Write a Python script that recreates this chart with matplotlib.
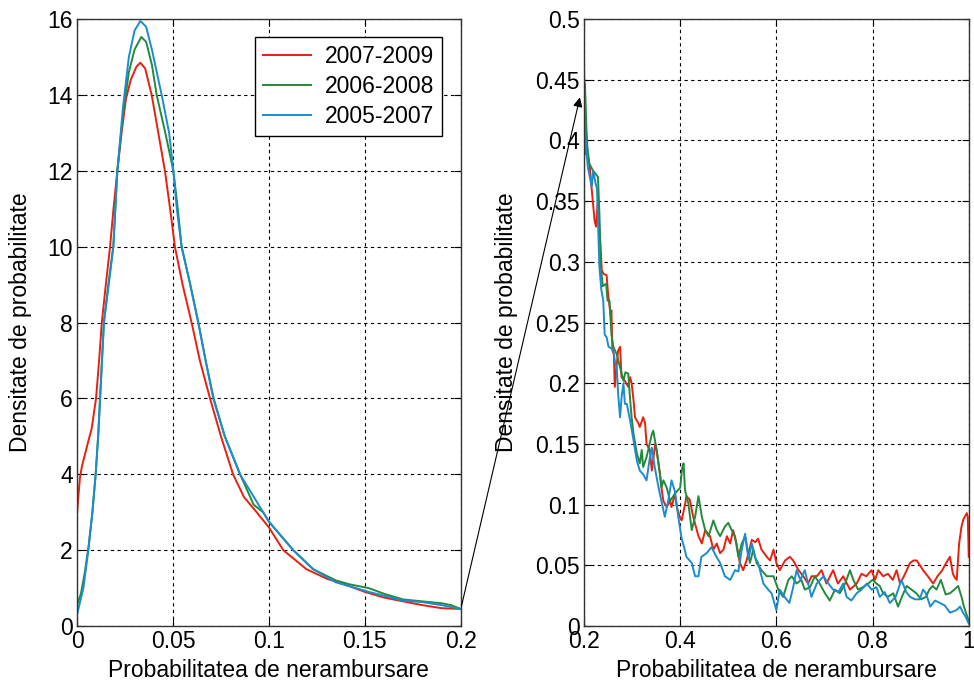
import numpy as np
import matplotlib
matplotlib.use('Agg')
import matplotlib.pyplot as plt
from matplotlib.patches import ConnectionPatch
from matplotlib.ticker import FuncFormatter

plt.rcParams['font.family'] = ['Liberation Sans', 'DejaVu Sans']

# series labels and colours
labels = ['2007-2009', '2006-2008', '2005-2007']
colors = ['#e8200f', '#238a3c', '#1a8ccf']

# ---- left panel: x in [0, 0.2] ----
x_red_l = [0.000, 0.0005, 0.0015, 0.0025, 0.004, 0.006, 0.0076, 0.0099, 0.0115, 0.0129,
           0.0150, 0.0172, 0.0190, 0.0210, 0.0232, 0.0255, 0.0280, 0.0310, 0.0330, 0.0355,
           0.0389, 0.0420, 0.0458, 0.0485, 0.0510, 0.0550, 0.0597, 0.0640, 0.0693, 0.0750,
           0.0813, 0.0870, 0.0936, 0.1000, 0.1075, 0.1195, 0.1300, 0.1420, 0.1500, 0.1600,
           0.1700, 0.1800, 0.1900, 0.2000]
y_red_l = [2.95, 3.3, 3.9, 4.2, 4.5, 4.9, 5.2, 6.0, 7.0, 8.0,
           9.0, 10.0, 11.0, 12.0, 13.0, 13.9, 14.4, 14.75, 14.85, 14.7,
           14.0, 13.1, 12.0, 11.0, 10.0, 9.0, 8.0, 7.0, 6.0, 5.0,
           4.0, 3.4, 3.0, 2.6, 2.0, 1.5, 1.25, 1.05, 0.9, 0.75,
           0.65, 0.55, 0.47, 0.45]

x_green_l = [0.000, 0.002, 0.004, 0.006, 0.008, 0.0097, 0.011, 0.012, 0.013, 0.0140,
             0.0163, 0.0189, 0.0210, 0.0240, 0.0270, 0.0300, 0.0335, 0.0360, 0.0390, 0.0415,
             0.0460, 0.0502, 0.0525, 0.0545, 0.0590, 0.0632, 0.0670, 0.0712, 0.0770, 0.0850,
             0.0920, 0.0970, 0.1000, 0.1127, 0.1230, 0.1350, 0.1420, 0.1520, 0.1600, 0.1700,
             0.1800, 0.1900, 0.1950, 0.2000]
y_green_l = [0.55, 0.85, 1.4, 2.1, 3.0, 4.0, 5.0, 6.0, 7.0, 8.0,
             9.0, 10.0, 12.0, 13.5, 14.6, 15.2, 15.53, 15.4, 14.8, 14.0,
             13.0, 12.0, 11.0, 10.0, 9.0, 8.0, 7.0, 6.0, 5.0, 4.0,
             3.2, 3.0, 2.75, 2.0, 1.5, 1.2, 1.1, 1.0, 0.85, 0.7,
             0.65, 0.6, 0.55, 0.45]

x_blue_l = [0.000, 0.0033, 0.0059, 0.0080, 0.0097, 0.011, 0.0120, 0.0130, 0.0140, 0.0165,
            0.0189, 0.0210, 0.0240, 0.0270, 0.0300, 0.0330, 0.0360, 0.0390, 0.0441, 0.0480,
            0.0502, 0.0520, 0.0545, 0.0590, 0.0632, 0.0670, 0.0710, 0.0770, 0.0849, 0.0970,
            0.1000, 0.1127, 0.1230, 0.1350, 0.1420, 0.1520, 0.1600, 0.1700, 0.1800, 0.1900,
            0.2000]
y_blue_l = [0.30, 1.0, 2.0, 3.0, 4.0, 5.0, 6.0, 7.0, 8.0, 9.0,
            10.0, 12.0, 13.7, 15.0, 15.7, 15.95, 15.8, 15.2, 14.0, 13.0,
            12.0, 11.0, 10.0, 9.0, 8.0, 7.0, 6.0, 5.0, 4.0, 3.0,
            2.75, 2.0, 1.5, 1.15, 1.05, 0.9, 0.8, 0.67, 0.63, 0.55,
            0.45]

# ---- right panel: x in [0.2, 1] ----
x_red_r = [0.200, 0.204, 0.209, 0.212, 0.218, 0.222, 0.225, 0.227, 0.229, 0.231,
           0.237, 0.241, 0.247, 0.250, 0.255, 0.257, 0.259, 0.262, 0.264, 0.268,
           0.271, 0.275, 0.278, 0.285, 0.292, 0.296, 0.299, 0.303, 0.306, 0.313,
           0.316, 0.323, 0.327, 0.330, 0.337, 0.341, 0.348, 0.351, 0.358, 0.361,
           0.365, 0.372, 0.379, 0.382, 0.389, 0.393, 0.399, 0.403, 0.410, 0.413,
           0.420, 0.427, 0.438, 0.445, 0.452, 0.462, 0.469, 0.476, 0.483, 0.490,
           0.497, 0.504, 0.510, 0.517, 0.524, 0.531, 0.538, 0.549, 0.556, 0.562,
           0.569, 0.580, 0.587, 0.594, 0.600, 0.607, 0.618, 0.628, 0.635, 0.646,
           0.656, 0.666, 0.673, 0.684, 0.694, 0.704, 0.718, 0.728, 0.739, 0.753,
           0.767, 0.777, 0.787, 0.798, 0.805, 0.812, 0.822, 0.832, 0.842, 0.850,
           0.857, 0.864, 0.878, 0.885, 0.892, 0.905, 0.915, 0.926, 0.935, 0.945,
           0.953, 0.961, 0.967, 0.971, 0.975, 0.980, 0.985, 0.989, 0.996, 0.998,
           1.000]
y_red_r = [0.397, 0.389, 0.385, 0.378, 0.351, 0.334, 0.329, 0.340, 0.351, 0.335,
           0.293, 0.290, 0.289, 0.274, 0.257, 0.260, 0.227, 0.224, 0.197, 0.215,
           0.227, 0.230, 0.205, 0.202, 0.197, 0.205, 0.200, 0.186, 0.172, 0.167,
           0.164, 0.172, 0.167, 0.150, 0.145, 0.128, 0.150, 0.145, 0.125, 0.114,
           0.103, 0.098, 0.103, 0.098, 0.109, 0.098, 0.090, 0.087, 0.100, 0.107,
           0.104, 0.090, 0.074, 0.068, 0.079, 0.074, 0.063, 0.068, 0.060, 0.063,
           0.074, 0.068, 0.079, 0.068, 0.052, 0.046, 0.054, 0.071, 0.069, 0.072,
           0.063, 0.057, 0.054, 0.063, 0.052, 0.046, 0.054, 0.057, 0.054, 0.046,
           0.041, 0.035, 0.041, 0.041, 0.046, 0.035, 0.046, 0.035, 0.041, 0.030,
           0.035, 0.043, 0.041, 0.046, 0.038, 0.046, 0.041, 0.043, 0.038, 0.046,
           0.035, 0.040, 0.052, 0.054, 0.054, 0.046, 0.041, 0.035, 0.041, 0.046,
           0.052, 0.057, 0.043, 0.040, 0.038, 0.068, 0.082, 0.088, 0.093, 0.090,
           0.057]

x_green_r = [0.200, 0.202, 0.205, 0.207, 0.211, 0.219, 0.225, 0.229, 0.232, 0.235,
             0.239, 0.246, 0.249, 0.253, 0.257, 0.261, 0.268, 0.275, 0.282, 0.286,
             0.292, 0.296, 0.299, 0.303, 0.310, 0.316, 0.320, 0.323, 0.330, 0.341,
             0.344, 0.351, 0.358, 0.361, 0.365, 0.372, 0.379, 0.389, 0.400, 0.404,
             0.407, 0.410, 0.417, 0.424, 0.431, 0.438, 0.445, 0.452, 0.459, 0.469,
             0.476, 0.483, 0.493, 0.500, 0.507, 0.514, 0.521, 0.528, 0.535, 0.545,
             0.552, 0.559, 0.569, 0.580, 0.594, 0.604, 0.614, 0.625, 0.632, 0.642,
             0.652, 0.659, 0.670, 0.680, 0.690, 0.701, 0.711, 0.722, 0.732, 0.743,
             0.753, 0.760, 0.770, 0.780, 0.791, 0.800, 0.808, 0.815, 0.822, 0.832,
             0.843, 0.853, 0.862, 0.871, 0.881, 0.891, 0.901, 0.911, 0.918, 0.925,
             0.933, 0.942, 0.952, 0.961, 0.970, 0.978, 0.985, 0.990, 1.000]
y_green_r = [0.400, 0.447, 0.410, 0.395, 0.381, 0.375, 0.372, 0.370, 0.340, 0.296,
             0.280, 0.282, 0.268, 0.268, 0.240, 0.230, 0.224, 0.213, 0.202, 0.209,
             0.208, 0.186, 0.172, 0.158, 0.142, 0.134, 0.145, 0.131, 0.139, 0.158,
             0.161, 0.145, 0.125, 0.114, 0.120, 0.114, 0.103, 0.109, 0.114, 0.130,
             0.134, 0.112, 0.101, 0.079, 0.090, 0.107, 0.090, 0.079, 0.074, 0.087,
             0.079, 0.074, 0.082, 0.085, 0.079, 0.074, 0.057, 0.068, 0.074, 0.052,
             0.063, 0.052, 0.046, 0.041, 0.041, 0.030, 0.024, 0.038, 0.041, 0.035,
             0.038, 0.030, 0.032, 0.041, 0.035, 0.027, 0.021, 0.030, 0.027, 0.035,
             0.046, 0.038, 0.030, 0.032, 0.035, 0.038, 0.035, 0.033, 0.027, 0.024,
             0.027, 0.016, 0.025, 0.033, 0.030, 0.027, 0.022, 0.024, 0.030, 0.033,
             0.030, 0.038, 0.026, 0.027, 0.030, 0.033, 0.024, 0.016, 0.004]

x_blue_r = [0.200, 0.201, 0.203, 0.208, 0.211, 0.216, 0.219, 0.224, 0.227, 0.229,
            0.232, 0.236, 0.240, 0.243, 0.247, 0.251, 0.256, 0.261, 0.265, 0.268,
            0.271, 0.275, 0.278, 0.282, 0.285, 0.289, 0.296, 0.303, 0.310, 0.316,
            0.323, 0.330, 0.337, 0.341, 0.347, 0.355, 0.361, 0.368, 0.375, 0.382,
            0.389, 0.396, 0.403, 0.408, 0.413, 0.424, 0.431, 0.438, 0.444, 0.455,
            0.465, 0.474, 0.483, 0.493, 0.504, 0.514, 0.521, 0.528, 0.535, 0.542,
            0.549, 0.556, 0.562, 0.573, 0.583, 0.590, 0.600, 0.607, 0.617, 0.627,
            0.635, 0.642, 0.650, 0.659, 0.666, 0.673, 0.684, 0.698, 0.708, 0.718,
            0.729, 0.739, 0.746, 0.756, 0.767, 0.777, 0.788, 0.798, 0.808, 0.815,
            0.825, 0.836, 0.848, 0.860, 0.870, 0.878, 0.888, 0.898, 0.905, 0.911,
            0.920, 0.930, 0.940, 0.950, 0.961, 0.974, 0.982, 0.988, 0.993, 1.000]
y_blue_r = [0.459, 0.440, 0.400, 0.378, 0.372, 0.362, 0.375, 0.365, 0.360, 0.334,
            0.296, 0.277, 0.268, 0.240, 0.238, 0.230, 0.229, 0.227, 0.216, 0.213,
            0.191, 0.172, 0.188, 0.200, 0.183, 0.183, 0.169, 0.153, 0.136, 0.128,
            0.125, 0.120, 0.139, 0.147, 0.131, 0.114, 0.103, 0.090, 0.103, 0.120,
            0.111, 0.090, 0.072, 0.065, 0.057, 0.052, 0.041, 0.041, 0.057, 0.060,
            0.065, 0.058, 0.052, 0.041, 0.038, 0.046, 0.045, 0.063, 0.076, 0.055,
            0.068, 0.056, 0.052, 0.035, 0.030, 0.027, 0.013, 0.030, 0.024, 0.019,
            0.032, 0.046, 0.038, 0.046, 0.035, 0.024, 0.035, 0.041, 0.035, 0.030,
            0.028, 0.035, 0.024, 0.021, 0.027, 0.030, 0.035, 0.030, 0.032, 0.024,
            0.028, 0.019, 0.024, 0.038, 0.028, 0.024, 0.022, 0.022, 0.030, 0.027,
            0.016, 0.021, 0.019, 0.017, 0.011, 0.013, 0.016, 0.011, 0.008, 0.002]

left_series = [(x_red_l, y_red_l), (x_green_l, y_green_l), (x_blue_l, y_blue_l)]
right_series = [(x_red_r, y_red_r), (x_green_r, y_green_r), (x_blue_r, y_blue_r)]

fig = plt.figure(figsize=(9.74, 6.85), dpi=100)
ax1 = fig.add_axes([0.0791, 0.0861, 0.394, 0.886])
ax2 = fig.add_axes([0.5996, 0.0861, 0.395, 0.886])

fmt = FuncFormatter(lambda v, p: '%g' % round(v, 3))
fs = 16.5

for (x, y), c, lab in zip(left_series, colors, labels):
    ax1.plot(x, y, color=c, lw=1.4, label=lab)
for (x, y), c in zip(right_series, colors):
    ax2.plot(x, y, color=c, lw=1.4)

ax1.set_xlim(0, 0.2)
ax1.set_ylim(0, 16)
ax1.set_xticks(np.arange(0, 0.21, 0.05))
ax1.set_yticks(np.arange(0, 17, 2))
ax2.set_xlim(0.2, 1)
ax2.set_ylim(0, 0.5)
ax2.set_xticks(np.arange(0.2, 1.01, 0.2))
ax2.set_yticks(np.arange(0, 0.51, 0.05))

for ax in (ax1, ax2):
    ax.xaxis.set_major_formatter(fmt)
    ax.yaxis.set_major_formatter(fmt)
    ax.grid(True, color='black', linestyle=(0, (3, 3)), lw=0.8)
    ax.tick_params(direction='in', top=True, right=True, labelsize=fs, length=5, pad=3)
    for s in ax.spines.values():
        s.set_color('#333333')
        s.set_linewidth(1.0)
    ax.set_xlabel('Probabilitatea de nerambursare', fontsize=fs, labelpad=4)
    ax.set_ylabel('Densitate de probabilitate', fontsize=fs)

ax1.yaxis.set_label_coords(-0.117, 0.5)
ax2.yaxis.set_label_coords(-0.172, 0.5)

leg = ax1.legend(loc='upper right', fontsize=fs, fancybox=False, framealpha=1,
                 edgecolor='black', handlelength=2.1, borderaxespad=0.8,
                 labelspacing=0.3, borderpad=0.35, handletextpad=0.6)
leg.get_frame().set_linewidth(1.0)

# arrow linking the tail of the left panel to the zoomed panel
con = ConnectionPatch(xyA=(0.2, 0.45), coordsA=ax1.transData,
                      xyB=(0.2, 0.45), coordsB=ax2.transData,
                      arrowstyle='-|>', mutation_scale=14, lw=0.8, color='black',
                      shrinkA=2, shrinkB=13)
fig.add_artist(con)

fig.savefig('out.png', dpi=100)
